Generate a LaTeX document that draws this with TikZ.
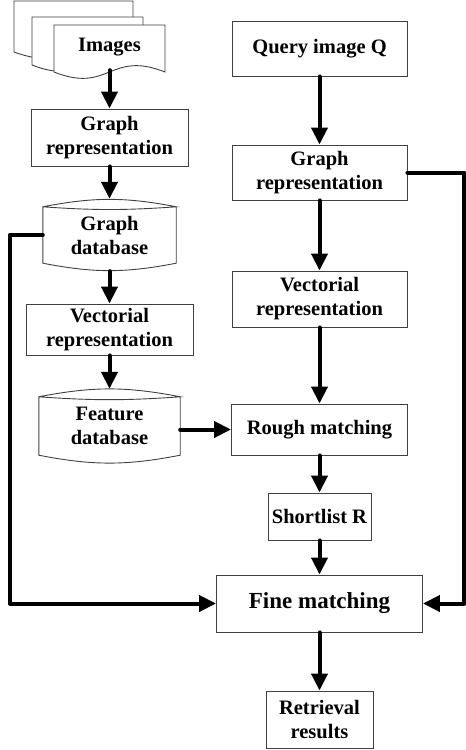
\documentclass[tikz,border=0pt]{standalone}
\usepackage{fontspec}
\setmainfont{Liberation Serif}
\usetikzlibrary{positioning,arrows.meta}
\newcommand{\blockfont}{\fontsize{20.5}{24}\selectfont\bfseries}
\newcommand{\bigfont}{\fontsize{23}{26}\selectfont\bfseries}
\tikzstyle{block} = [draw=black!75, line width=0.9pt, rectangle, align=center, inner sep=1pt, font=\blockfont]
\tikzstyle{store} = [rectangle, align=center, inner sep=1pt, font=\blockfont]
\tikzstyle{shapeline} = [draw=black!75, line width=0.9pt]
\tikzstyle{flow} = [line width=4pt, line cap=round, line join=round, -{Triangle[width=16pt,length=17pt]}]
% stacked page with a wavy lower edge
\newcommand{\docpage}[4]{%
  \pgfmathsetmacro{\halfw}{(#3-#1)/2}
  \filldraw [shapeline, fill=white] (#1,#4) -- (#1,#2) -- (#3,#2) -- (#3,#4)
    .. controls +(-\halfw,-22) and +(\halfw,22) .. (#1,#4) -- cycle;}
% stored data outline round a store node
\newcommand{\storeoutline}[1]{%
  \draw [shapeline] (#1.north west) to[bend left=11] (#1.north east)
    to[bend left=4] (#1.north west) -- (#1.south west)
    to[bend right=11] (#1.south east) -- (#1.north east);}

\begin{document}
\begin{tikzpicture}[x=1pt, y=-1pt, node distance=90pt]
    \useasboundingbox (0,0) rectangle (466,750);
    % Drawing blocks and nodes
    \docpage{14}{1}{133}{52}
    \docpage{32}{17}{143}{65}
    \docpage{54}{25}{165}{72}
    \node [store, minimum width=111pt, minimum height=45pt] (images) at (109.5,47.5) {Images};
    \node [block, node distance=90pt, below of=images, minimum width=157pt, minimum height=57pt] (graphL) {Graph\\representation};
    \node [store, node distance=97.5pt, below of=graphL, minimum width=133pt, minimum height=56pt] (gdb) {Graph\\database};
    \node [block, node distance=94.5pt, below of=gdb, minimum width=167pt, minimum height=51pt] (vecL) {Vectorial\\representation};
    \node [store, node distance=96.5pt, below of=vecL, minimum width=141pt, minimum height=58pt] (fdb) {Feature\\database};
    \storeoutline{gdb}
    \storeoutline{fdb}

    \node [block, minimum width=175pt, minimum height=55pt] (query) at (319.5,48.5) {Query image Q};
    \node [block, node distance=124pt, below of=query, minimum width=175pt, minimum height=55pt] (graphR) {Graph\\representation};
    \node [block, node distance=126.5pt, below of=graphR, minimum width=175pt, minimum height=56pt] (vecR) {Vectorial\\representation};
    \node [block, node distance=130.5pt, below of=vecR, minimum width=176pt, minimum height=51pt] (rough) {Rough matching};
    \node [block, node distance=87pt, below of=rough, minimum width=103pt, minimum height=47pt] (short) {Shortlist R};
    \node [block, node distance=87pt, below of=short, minimum width=206pt, minimum height=57pt, font=\bigfont] (fine) {Fine matching};
    \node [block, node distance=116pt, below of=fine, minimum width=107pt, minimum height=57pt] (retrieval) {Retrieval\\results};

    % Connectors
    \draw [flow] (images.south) -- (graphL.north);
    \draw [flow] (graphL.south) -- ([yshift=8pt]gdb.north);
    \draw [flow] ([yshift=-8pt]gdb.south) -- (vecL.north);
    \draw [flow] (vecL.south) -- ([yshift=8pt]fdb.north);
    \draw [flow] (fdb.east |- rough.west) -- (rough.west);
    \draw [flow] (query.south) -- (graphR.north);
    \draw [flow] (graphR.south) -- (vecR.north);
    \draw [flow] (vecR.south) -- (rough.north);
    \draw [flow] (rough.south) -- (short.north);
    \draw [flow] (short.south) -- (fine.north);
    \draw [flow] (fine.south) -- (retrieval.north);
    \draw [flow] (gdb.west) -- ++(-33,0) |- (fine.west);
    \draw [flow] (graphR.east) -- ++(57,0) |- (fine.east);
\end{tikzpicture}
\end{document}
